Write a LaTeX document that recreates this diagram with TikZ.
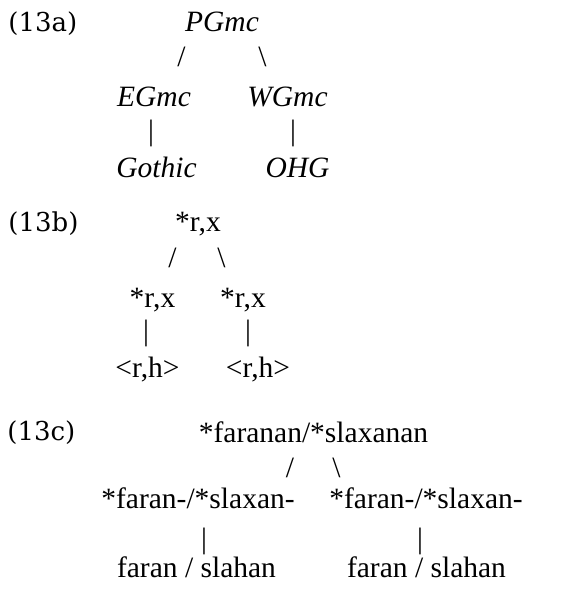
\documentclass[tikz,border=0pt]{standalone}
\usepackage{fontspec}
\setmainfont{Liberation Serif}
\newfontfamily\exfont{DejaVu Serif}
\usepackage{tikz}
\usetikzlibrary{positioning}
\tikzset{word/.style={anchor=base, inner sep=0pt, font=\fontsize{14.75}{17}\selectfont},
  branch/.style={anchor=center, inner sep=0pt, font=\fontsize{14.75}{17}\selectfont},
  exnum/.style={anchor=base west, inner sep=0pt, font=\exfont\fontsize{13}{15}\selectfont}}

\begin{document}
\begin{tikzpicture}[x=0.5pt, y=-0.5pt]
        \useasboundingbox (0,0) rectangle (563,592);
        % (13a)
        \node[exnum] (la) at (8,32) {(13a)};
        \node[word] (pgmc) at (222,32) {\itshape PGmc};
        \node[branch] (pgmcl) at (181.5,56.5) {/};
        \node[branch] (pgmcr) at (262.5,56.5) {\textbackslash};
        \node[word] (egmc) at (154,107) {\itshape EGmc};
        \node[word] (wgmc) at (287.5,107) {\itshape WGmc};
        \node[branch] (egmcv) at (151,133.5) {|};
        \node[branch] (wgmcv) at (293,133.5) {|};
        \node[word] (goth) at (156.5,178) {\itshape Gothic};
        \node[word] (ohg) at (297.5,178) {\itshape OHG};

        % (13b)
        \node[exnum] (lb) at (8,232) {(13b)};
        \node[word] (rx) at (198,232) {*r,x};
        \node[branch] (rxl) at (172.5,258) {/};
        \node[branch] (rxr) at (221.5,258) {\textbackslash};
        \node[word] (rxa) at (152.5,307) {*r,x};
        \node[word] (rxb) at (243,307) {*r,x};
        \node[branch] (rxav) at (146,333.5) {|};
        \node[branch] (rxbv) at (248,333.5) {|};
        \node[word] (rha) at (147.5,377) {<r,h>};
        \node[word] (rhb) at (258,377) {<r,h>};

        % (13c)
        \node[exnum] (lc) at (7,440) {(13c)};
        \node[word] (inf) at (313.5,442) {*faranan/*slaxanan};
        \node[branch] (infl) at (290,467.5) {/};
        \node[branch] (infr) at (336.5,467.5) {\textbackslash};
        \node[word] (stema) at (198,508) {*faran-/*slaxan-};
        \node[word] (stemb) at (426,508) {*faran-/*slaxan-};
        \node[branch] (stemav) at (204,541) {|};
        \node[branch] (stembv) at (420,541) {|};
        \node[word] (forma) at (196.5,577) {faran / slahan};
        \node[word] (formb) at (426.5,577) {faran / slahan};
      \end{tikzpicture}
\end{document}
